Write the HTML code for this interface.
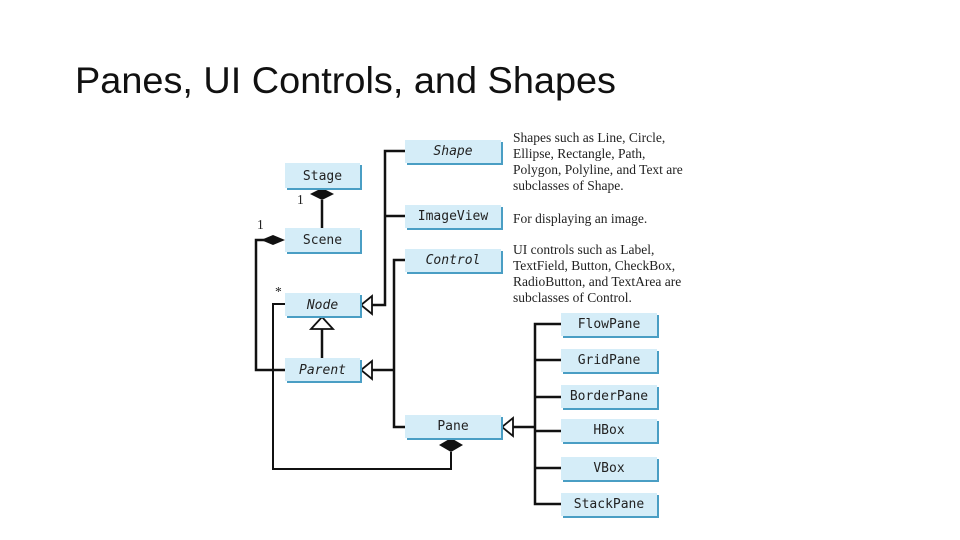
<!DOCTYPE html>
<html><head><meta charset="utf-8"><style>
html,body{margin:0;padding:0;background:#fff;}
svg{display:block}
.b{font-family:"DejaVu Sans Mono","Liberation Mono",monospace;font-size:13px;fill:#222;}
.i{font-style:italic}
.t{font-family:"Liberation Serif",serif;font-size:13.5px;fill:#222;}
</style></head><body>
<svg width="960" height="540" viewBox="0 0 960 540" xmlns="http://www.w3.org/2000/svg">
<rect width="960" height="540" fill="#fff"/>
<text x="75" y="93" font-family="Liberation Sans, sans-serif" font-size="37" fill="#111" textLength="541" lengthAdjust="spacingAndGlyphs">Panes, UI Controls, and Shapes</text>

<g stroke="#111" fill="none" stroke-width="2.5">
<!-- Shape/ImageView trunk -->
<polyline points="405,151 385,151 385,305 372,305"/>
<line x1="385" y1="216" x2="405" y2="216"/>
<!-- Control trunk -->
<polyline points="405,260 394,260 394,427 405,427"/>
<line x1="372" y1="370" x2="394" y2="370"/>
<!-- Stage-Scene -->
<line x1="322" y1="200" x2="322" y2="228"/>
<!-- Scene to Parent outer -->
<polyline points="273,240 256,240 256,370 285,370"/>
<!-- Node-Parent -->
<line x1="322" y1="329" x2="322" y2="358"/>
<!-- Node to Pane aggregation -->
<polyline stroke-width="2" points="285,304 273,304 273,469 451,469 451,452"/>
<!-- Pane trunk -->
<line x1="513" y1="427" x2="535" y2="427"/>
<polyline points="561,324 535,324 535,504 561,504"/>
<line x1="535" y1="360" x2="561" y2="360"/>
<line x1="535" y1="397" x2="561" y2="397"/>
<line x1="535" y1="431" x2="561" y2="431"/>
<line x1="535" y1="468" x2="561" y2="468"/>
</g>
<!-- triangles -->
<g fill="#fff" stroke="#111" stroke-width="1.8">
<polygon points="361,305 372,296 372,314"/>
<polygon points="361,370 372,361 372,379"/>
<polygon points="322,317 311,329 333,329"/>
<polygon points="502,427 513,418 513,436"/>
</g>
<!-- diamonds -->
<g fill="#111">
<polygon points="322,188 334,194 322,200 310,194"/>
<polygon points="285,240 273,245 261,240 273,235"/>
<polygon points="451,438 463,445 451,452 439,445"/>
</g>
<text x="297" y="204" class="t" font-size="12">1</text>
<text x="257" y="229" class="t" font-size="12">1</text>
<text x="275" y="296" class="t" font-size="10">*</text>

<!-- boxes -->
<g>
<g transform="translate(285,163)"><rect x="2" y="2" width="75" height="25" fill="#4a9ec4"/><rect width="75" height="25" fill="#d5edf8"/><text x="37.5" y="17" text-anchor="middle" class="b">Stage</text></g>
<g transform="translate(285,228)"><rect x="2" y="2" width="75" height="24" fill="#4a9ec4"/><rect width="75" height="24" fill="#d5edf8"/><text x="37.5" y="16" text-anchor="middle" class="b">Scene</text></g>
<g transform="translate(285,293)"><rect x="2" y="2" width="75" height="23" fill="#4a9ec4"/><rect width="75" height="23" fill="#d5edf8"/><text x="37.5" y="16" text-anchor="middle" class="b i">Node</text></g>
<g transform="translate(285,358)"><rect x="2" y="2" width="75" height="23" fill="#4a9ec4"/><rect width="75" height="23" fill="#d5edf8"/><text x="37.5" y="16" text-anchor="middle" class="b i">Parent</text></g>
<g transform="translate(405,140)"><rect x="2" y="2" width="96" height="23" fill="#4a9ec4"/><rect width="96" height="23" fill="#d5edf8"/><text x="48" y="15" text-anchor="middle" class="b i">Shape</text></g>
<g transform="translate(405,205)"><rect x="2" y="2" width="96" height="23" fill="#4a9ec4"/><rect width="96" height="23" fill="#d5edf8"/><text x="48" y="15" text-anchor="middle" class="b">ImageView</text></g>
<g transform="translate(405,249)"><rect x="2" y="2" width="96" height="23" fill="#4a9ec4"/><rect width="96" height="23" fill="#d5edf8"/><text x="48" y="15" text-anchor="middle" class="b i">Control</text></g>
<g transform="translate(405,415)"><rect x="2" y="2" width="96" height="23" fill="#4a9ec4"/><rect width="96" height="23" fill="#d5edf8"/><text x="48" y="15" text-anchor="middle" class="b">Pane</text></g>
<g transform="translate(561,313)"><rect x="2" y="2" width="96" height="23" fill="#4a9ec4"/><rect width="96" height="23" fill="#d5edf8"/><text x="48" y="15" text-anchor="middle" class="b">FlowPane</text></g>
<g transform="translate(561,349)"><rect x="2" y="2" width="96" height="23" fill="#4a9ec4"/><rect width="96" height="23" fill="#d5edf8"/><text x="48" y="15" text-anchor="middle" class="b">GridPane</text></g>
<g transform="translate(561,385)"><rect x="2" y="2" width="96" height="23" fill="#4a9ec4"/><rect width="96" height="23" fill="#d5edf8"/><text x="48" y="15" text-anchor="middle" class="b">BorderPane</text></g>
<g transform="translate(561,419)"><rect x="2" y="2" width="96" height="23" fill="#4a9ec4"/><rect width="96" height="23" fill="#d5edf8"/><text x="48" y="15" text-anchor="middle" class="b">HBox</text></g>
<g transform="translate(561,457)"><rect x="2" y="2" width="96" height="23" fill="#4a9ec4"/><rect width="96" height="23" fill="#d5edf8"/><text x="48" y="15" text-anchor="middle" class="b">VBox</text></g>
<g transform="translate(561,493)"><rect x="2" y="2" width="96" height="23" fill="#4a9ec4"/><rect width="96" height="23" fill="#d5edf8"/><text x="48" y="15" text-anchor="middle" class="b">StackPane</text></g>
</g>

<!-- descriptions -->
<g class="t">
<text x="513" y="142">Shapes such as Line, Circle,</text>
<text x="513" y="158">Ellipse, Rectangle, Path,</text>
<text x="513" y="174">Polygon, Polyline, and Text are</text>
<text x="513" y="190">subclasses of Shape.</text>
<text x="513" y="223">For displaying an image.</text>
<text x="513" y="254">UI controls such as Label,</text>
<text x="513" y="270">TextField, Button, CheckBox,</text>
<text x="513" y="286">RadioButton, and TextArea are</text>
<text x="513" y="302">subclasses of Control.</text>
</g>
</svg>
</body></html>
